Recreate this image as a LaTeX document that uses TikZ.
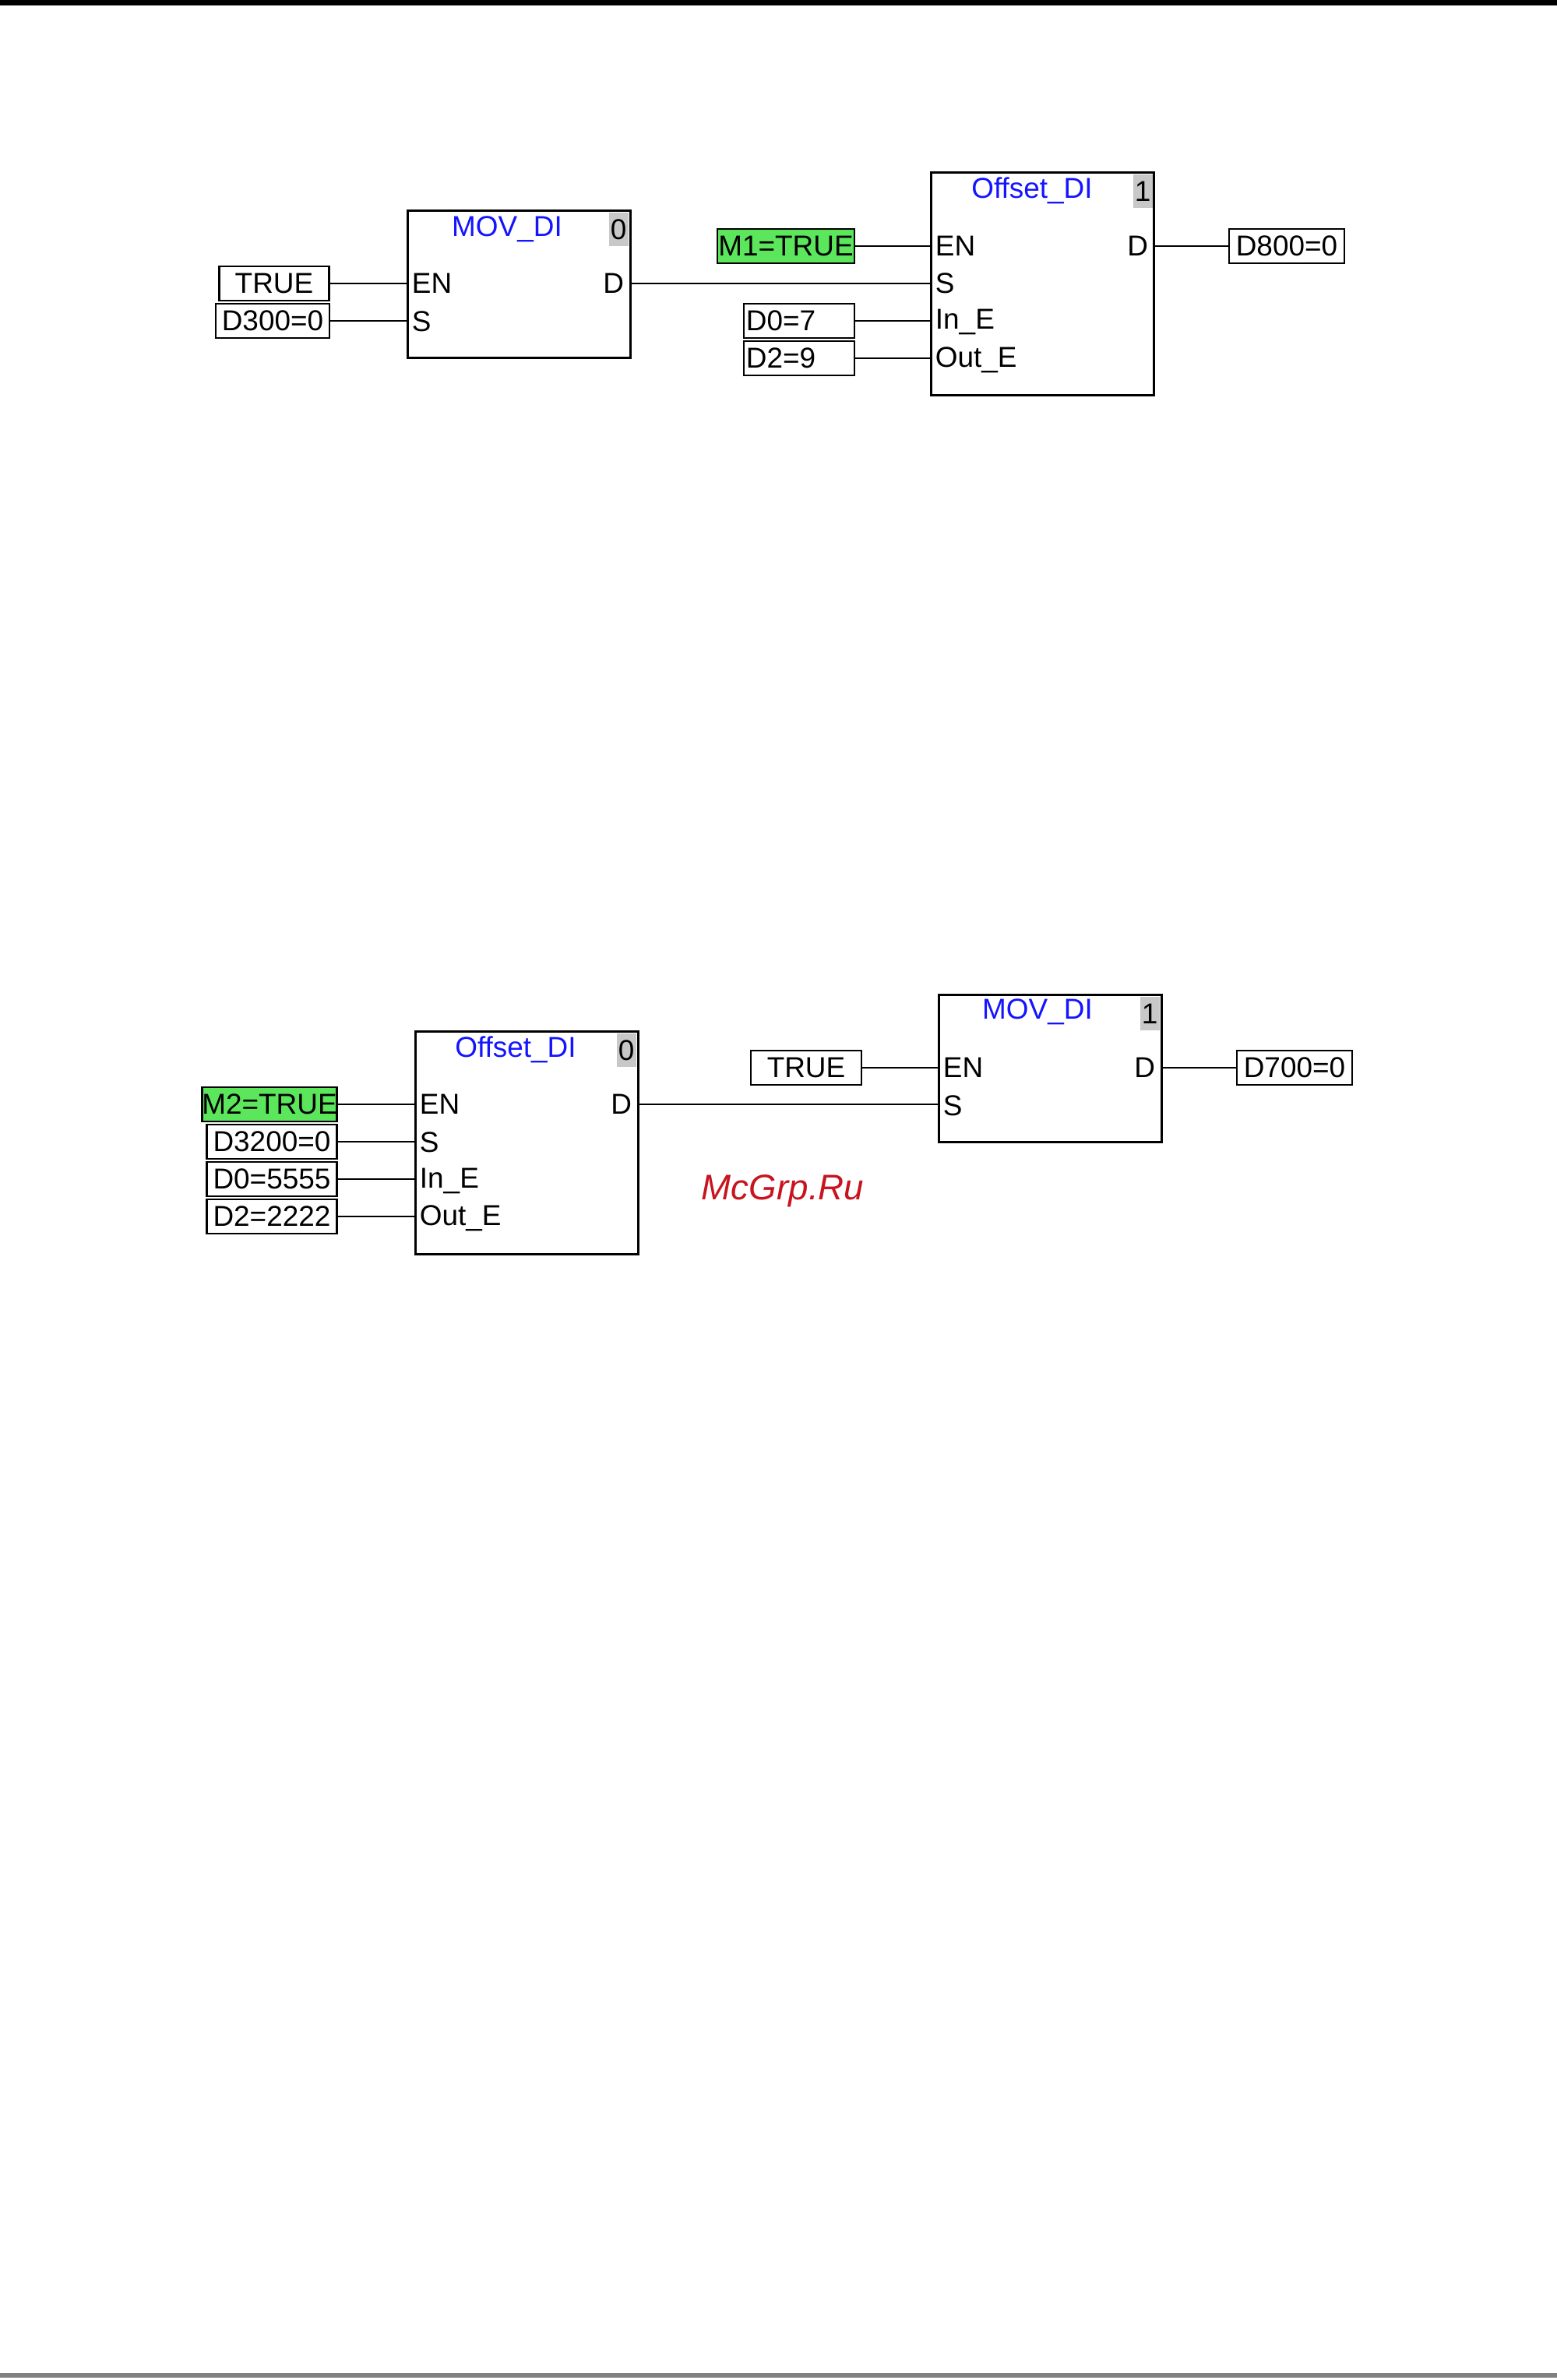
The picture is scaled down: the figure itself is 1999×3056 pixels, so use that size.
\documentclass[tikz,border=0pt]{standalone}
\usepackage{fontspec}
\setmainfont{Liberation Sans}
\usetikzlibrary{positioning}
\definecolor{plcgreen}{RGB}{92,230,92}
\definecolor{plcblue}{RGB}{20,20,255}
\definecolor{plcgray}{RGB}{200,200,200}
\definecolor{plcred}{RGB}{200,20,30}
\begin{document}
\begin{tikzpicture}[x=0.01cm, y=-0.01cm, line width=0.8pt,
    font=\fontsize{10.5}{12}\selectfont,
    fblock/.style = {draw, minimum width=2.86cm, anchor=north west, inner sep=0pt},
    vbox/.style = {draw, minimum height=0.44cm, inner sep=0pt},
    port/.style = {anchor=west, inner sep=1pt},
    oport/.style = {anchor=east, inner sep=1pt},
    title/.style = {text=plcblue},
    idx/.style = {fill=plcgray, minimum width=0.25cm, minimum height=0.43cm, inner sep=0pt, anchor=north east}]
    \useasboundingbox (0,0) rectangle (1999,3056);
    \fill[white] (0,0) rectangle (1999,3056);
    \fill[black] (0,0) rectangle (1999,7);
    \fill[gray] (0,3047) rectangle (1999,3053);

    % network 0
    \node[fblock, minimum height=1.89cm] (mov1) at (522,269) {};
    \node[title] (mov1t) at (651,294) {MOV\_DI};
    \node[idx] (mov1i) at (808,272) {0};
    \node[port] (mov1en) at (524,364) {EN};
    \node[port] (mov1s) at (524,413) {S};
    \node[oport] (mov1d) at (806,364) {D};

    \node[fblock, minimum height=2.86cm] (off1) at (1194,220) {};
    \node[title] (off1t) at (1325,245) {Offset\_DI};
    \node[idx] (off1i) at (1481,223) {1};
    \node[port] (off1en) at (1196,316) {EN};
    \node[port] (off1s) at (1196,364) {S};
    \node[port] (off1in) at (1196,413) {In\_E};
    \node[port] (off1out) at (1196,462) {Out\_E};
    \node[oport] (off1d) at (1479,316) {D};

    \node[vbox, minimum width=1.41cm] (true1) at (352,364) {TRUE};
    \node[vbox, minimum width=1.46cm] (d300) at (350,412) {D300=0};
    \node[vbox, minimum width=1.76cm, fill=plcgreen] (m1) at (1009,316) {M1=TRUE};
    \node[vbox, minimum width=1.42cm, text width=1.36cm] (d0a) at (1026,412) {D0=7};
    \node[vbox, minimum width=1.42cm, text width=1.36cm] (d2a) at (1026,460) {D2=9};
    \node[vbox, minimum width=1.48cm] (d800) at (1652,316) {D800=0};

    \draw (true1.east) -- (true1.east -| mov1.west);
    \draw (d300.east) -- (d300.east -| mov1.west);
    \draw (mov1d.east -| mov1.east) -- (mov1d.east -| off1.west);
    \draw (m1.east) -- (m1.east -| off1.west);
    \draw (d0a.east) -- (d0a.east -| off1.west);
    \draw (d2a.east) -- (d2a.east -| off1.west);
    \draw (off1d.east -| off1.east) -- (d800.west);

    % network 1
    \node[fblock, minimum height=2.86cm] (off2) at (532,1323) {};
    \node[title] (off2t) at (662,1348) {Offset\_DI};
    \node[idx] (off2i) at (818,1326) {0};
    \node[port] (off2en) at (534,1418) {EN};
    \node[port] (off2s) at (534,1467) {S};
    \node[port] (off2in) at (534,1516) {In\_E};
    \node[port] (off2out) at (534,1564) {Out\_E};
    \node[oport] (off2d) at (816,1418) {D};

    \node[fblock, minimum height=1.89cm] (mov2) at (1204,1276) {};
    \node[title] (mov2t) at (1332,1299) {MOV\_DI};
    \node[idx] (mov2i) at (1490,1279) {1};
    \node[port] (mov2en) at (1206,1371) {EN};
    \node[port] (mov2s) at (1206,1420) {S};
    \node[oport] (mov2d) at (1488,1371) {D};

    \node[vbox, minimum width=1.73cm, fill=plcgreen] (m2) at (346,1418) {M2=TRUE};
    \node[vbox, minimum width=1.67cm] (d3200) at (349,1466) {D3200=0};
    \node[vbox, minimum width=1.67cm] (d0b) at (349,1514) {D0=5555};
    \node[vbox, minimum width=1.67cm] (d2b) at (349,1562) {D2=2222};
    \node[vbox, minimum width=1.42cm] (true2) at (1035,1371) {TRUE};
    \node[vbox, minimum width=1.48cm] (d700) at (1662,1371) {D700=0};

    \draw (m2.east) -- (m2.east -| off2.west);
    \draw (d3200.east) -- (d3200.east -| off2.west);
    \draw (d0b.east) -- (d0b.east -| off2.west);
    \draw (d2b.east) -- (d2b.east -| off2.west);
    \draw (off2d.east -| off2.east) -- (off2d.east -| mov2.west);
    \draw (true2.east) -- (true2.east -| mov2.west);
    \draw (mov2d.east -| mov2.east) -- (d700.west);

    \node[text=plcred, font=\fontsize{13}{15}\selectfont\itshape] (mark) at (1005,1529) {McGrp.Ru};
\end{tikzpicture}
\end{document}
